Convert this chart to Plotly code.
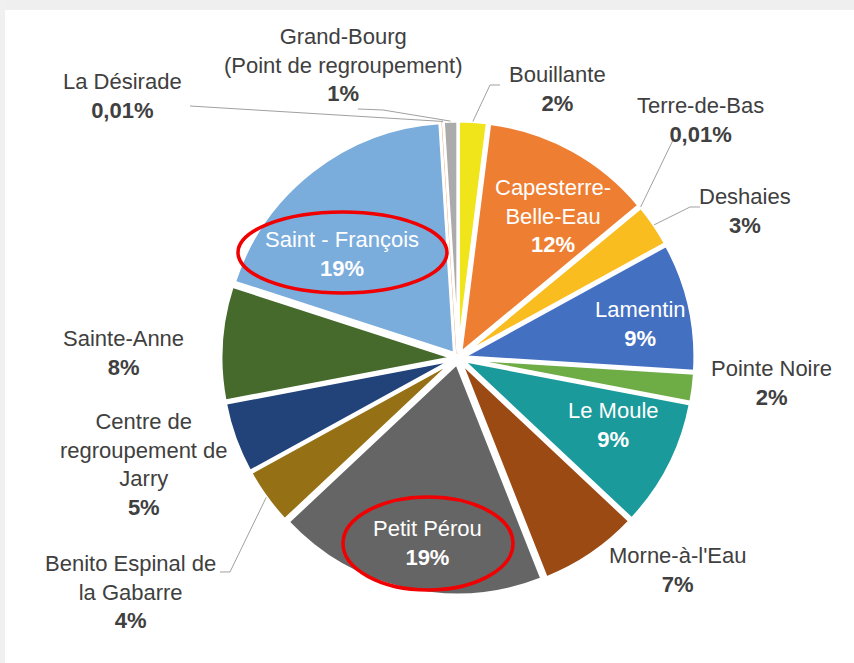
import math
import plotly.graph_objects as go

# Communes / sites and their share of the total (%)
communes = [
    "Bouillante", "Capesterre-<br>Belle-Eau", "Terre-de-Bas", "Deshaies", "Lamentin",
    "Pointe Noire", "Le Moule", "Morne-à-l'Eau", "Petit Pérou",
    "Benito Espinal de<br>la Gabarre", "Centre de<br>regroupement de<br>Jarry",
    "Sainte-Anne", "Saint - François", "La Désirade",
    "Grand-Bourg<br>(Point de regroupement)",
]
parts = [2, 12, 0.01, 3, 9, 2, 9, 7, 19, 4, 5, 8, 19, 0.01, 1]
colors = [
    "#F0E41A", "#EE7E32", "#A5A5A5", "#FABD1F", "#4470C2",
    "#6EAC46", "#1A9A9A", "#9C4A14", "#656565",
    "#967014", "#21437A", "#456A2C", "#7AACDC", "#F1975A", "#ABABAB",
]

W, H = 854, 663
CX, CY = 458, 358          # pie centre (px)
R_OUT = 237                # outer radius incl. pull (px)
PULL = 0.025

FONT = "Liberation Sans, Arial, sans-serif"
DARK = "#404040"


def px(x):
    return x / W


def py(y):
    return 1 - y / H


def fmt(v):
    if v < 1:
        return ("%.2f" % v).replace(".", ",") + "%"
    return "%d%%" % round(v)


# label placement: centre of text block (px), colour, optional leader path (px)
label_pos = {
    "Bouillante": (557, 89, DARK, [(500, 85), (490, 85)]),
    "Capesterre-<br>Belle-Eau": (553, 216, "white", None),
    "Terre-de-Bas": (700, 120, DARK, [(677, 140), (673, 140)]),
    "Deshaies": (745, 211, DARK, [(700, 207), (690, 207)]),
    "Lamentin": (640, 324, "white", None),
    "Pointe Noire": (771, 383, DARK, None),
    "Le Moule": (613, 425, "white", None),
    "Morne-à-l'Eau": (677, 570, DARK, None),
    "Petit Pérou": (427, 543, "white", None),
    "Benito Espinal de<br>la Gabarre": (130, 592, DARK, [(220, 572), (230, 572)]),
    "Centre de<br>regroupement de<br>Jarry": (144, 465, DARK, None),
    "Sainte-Anne": (123, 353, DARK, None),
    "Saint - François": (342, 254, "white", None),
    "La Désirade": (122, 96, DARK, [(190, 106)]),
    "Grand-Bourg<br>(Point de regroupement)": (343, 65, DARK, [(358, 109), (383, 110)]),
}

line_colors = ["white"] * len(parts)
line_colors[communes.index("La Désirade")] = "#F1975A"

fig = go.Figure(go.Pie(
    labels=communes,
    values=parts,
    sort=False,
    direction="clockwise",
    rotation=0,
    pull=[PULL] * len(parts),
    marker=dict(colors=colors, line=dict(color=line_colors, width=3)),
    textinfo="none",
    hoverinfo="label+percent",
    showlegend=False,
    domain=dict(x=[px(CX - R_OUT), px(CX + R_OUT)],
                y=[py(CY + R_OUT), py(CY - R_OUT)]),
))

annotations = []
shapes = []

# page frame bands
shapes.append(dict(type="rect", xref="paper", yref="paper", x0=0, x1=1,
                   y0=py(10), y1=1, fillcolor="#EFEFEF", line_width=0, layer="below"))
shapes.append(dict(type="rect", xref="paper", yref="paper", x0=0, x1=px(5),
                   y0=0, y1=1, fillcolor="#F0F0F0", line_width=0, layer="below"))

total = sum(parts)
cum = 0.0
for name, v in zip(communes, parts):
    mid = 2 * math.pi * (cum + v / 2) / total
    cum += v
    x, y, col, leader = label_pos[name]
    annotations.append(dict(
        x=px(x), y=py(y), xref="paper", yref="paper",
        xanchor="center", yanchor="middle",
        text="%s<br><b>%s</b>" % (name, fmt(v)),
        showarrow=False, align="center",
        font=dict(family=FONT, size=22, color=col),
    ))
    if leader:
        ex = CX + R_OUT * math.sin(mid)
        ey = CY - R_OUT * math.cos(mid)
        pts = leader + [(ex, ey)]
        path = "M " + " L ".join("%.4f,%.4f" % (px(a), py(b)) for a, b in pts)
        shapes.append(dict(type="path", xref="paper", yref="paper", path=path,
                           line=dict(color="#A0A0A0", width=1)))

# highlight rings around the two largest sites
for x0, x1, y0, y1 in [(238, 447, 212, 293), (343, 513, 497, 590)]:
    shapes.append(dict(type="circle", xref="paper", yref="paper",
                       x0=px(x0), x1=px(x1), y0=py(y1), y1=py(y0),
                       line=dict(color="#F00000", width=3.5)))

fig.update_layout(
    width=W, height=H,
    margin=dict(l=0, r=0, t=0, b=0),
    paper_bgcolor="white",
    plot_bgcolor="white",
    annotations=annotations,
    shapes=shapes,
)

fig.write_html("out.html")
